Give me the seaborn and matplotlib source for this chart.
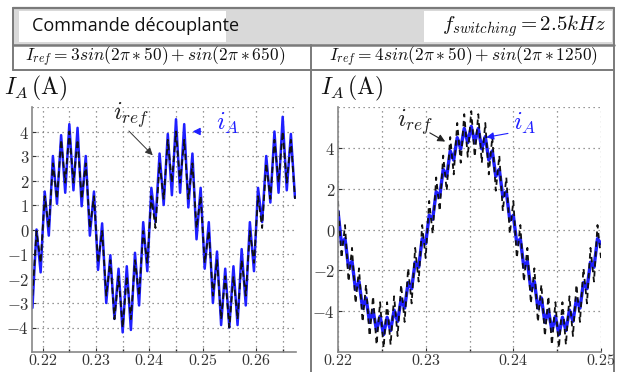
import matplotlib
matplotlib.use("Agg")
import matplotlib.pyplot as plt
import seaborn as sns
from matplotlib.patches import Rectangle
from matplotlib.ticker import FixedLocator

# ---------------- data ----------------
t_left = [0.21808, 0.21885, 0.21962, 0.22038, 0.22115, 0.22192, 0.22269, 0.22346, 0.22423, 0.22500,
          0.22577, 0.22654, 0.22731, 0.22808, 0.22885, 0.22962, 0.23038, 0.23115, 0.23192, 0.23269,
          0.23346, 0.23423, 0.23500, 0.23577, 0.23654, 0.23731, 0.23808, 0.23885, 0.23962, 0.24038,
          0.24115, 0.24192, 0.24269, 0.24346, 0.24423, 0.24500, 0.24577, 0.24654, 0.24731, 0.24808,
          0.24885, 0.24962, 0.25038, 0.25115, 0.25192, 0.25269, 0.25346, 0.25423, 0.25500, 0.25577,
          0.25654, 0.25731, 0.25808, 0.25885, 0.25962, 0.26038, 0.26115, 0.26192, 0.26269, 0.26346,
          0.26423, 0.26500, 0.26577, 0.26654, 0.26731]
iref_left = [-2.70,
             -0.06, -1.36, 1.36, 0.06, 2.70, 1.25, 3.66, 1.91, 4.00, 1.91, 3.66, 1.25, 2.70,
             0.06, 1.36, -1.36, -0.06, -2.70, -1.25, -3.66, -1.91, -4.00, -1.91, -3.66, -1.25, -2.70,
             -0.06, -1.36, 1.36, 0.06, 2.70, 1.25, 3.66, 1.91, 4.00, 1.91, 3.66, 1.25, 2.70,
             0.06, 1.36, -1.36, -0.06, -2.70, -1.25, -3.66, -1.91, -4.00, -1.91, -3.66, -1.25, -2.70,
             -0.06, -1.36, 1.36, 0.06, 2.70, 1.25, 3.66, 1.91, 4.00, 1.91, 3.66, 1.25]
ia_left = [-3.2,
           0.0, -1.75, 1.55, -0.25, 3.0, 1.05, 3.85, 1.5, 4.3, 1.6, 4.15, 0.95, 3.0,
           -0.25, 1.55, -1.65, 0.25, -3.0, -1.05, -3.65, -1.6, -4.2, -1.5, -4.1, -0.95, -3.1,
           0.3, -1.7, 1.7, 0.3, 3.1, 1.0, 3.9, 1.4, 4.5, 1.5, 4.3, 0.9, 3.1,
           -0.4, 1.7, -1.6, 0.3, -3.0, -0.9, -3.9, -1.6, -4.0, -1.5, -3.9, -0.8, -3.1,
           0.3, -1.7, 1.7, 0.3, 3.0, 1.1, 4.0, 1.5, 4.6, 1.6, 3.9, 1.3]

t_right = [0.2200, 0.2204, 0.2208, 0.2212, 0.2216, 0.2220, 0.2224, 0.2228, 0.2232, 0.2236,
           0.2240, 0.2244, 0.2248, 0.2252, 0.2256, 0.2260, 0.2264, 0.2268, 0.2272, 0.2276,
           0.2280, 0.2284, 0.2288, 0.2292, 0.2296, 0.2300, 0.2304, 0.2308, 0.2312, 0.2316,
           0.2320, 0.2324, 0.2328, 0.2332, 0.2336, 0.2340, 0.2344, 0.2348, 0.2352, 0.2356,
           0.2360, 0.2364, 0.2368, 0.2372, 0.2376, 0.2380, 0.2384, 0.2388, 0.2392, 0.2396,
           0.2400, 0.2404, 0.2408, 0.2412, 0.2416, 0.2420, 0.2424, 0.2428, 0.2432, 0.2436,
           0.2440, 0.2444, 0.2448, 0.2452, 0.2456, 0.2460, 0.2464, 0.2468, 0.2472, 0.2476,
           0.2480, 0.2484, 0.2488, 0.2492, 0.2496, 0.2500]
iref_right = [1.40, -1.40, 0.22, -2.55, -0.90, -3.62, -1.90, -4.53, -2.70, -5.22,
              -3.27, -5.65, -3.56, -5.80, -3.56, -5.65, -3.27, -5.22, -2.70, -4.53,
              -1.90, -3.62, -0.90, -2.55, 0.22, -1.40, 1.40, -0.22, 2.55, 0.90,
              3.62, 1.90, 4.53, 2.70, 5.22, 3.27, 5.65, 3.56, 5.80, 3.56,
              5.65, 3.27, 5.22, 2.70, 4.53, 1.90, 3.62, 0.90, 2.55, -0.22,
              1.40, -1.40, 0.22, -2.55, -0.90, -3.62, -1.90, -4.53, -2.70, -5.22,
              -3.27, -5.65, -3.56, -5.80, -3.56, -5.65, -3.27, -5.22, -2.70, -4.53,
              -1.90, -3.62, -0.90, -2.55, 0.22, -1.40]
ia_right = [0.90, -0.70, -0.45, -1.85, -1.55, -2.95, -2.55, -3.85, -3.35, -4.55,
            -3.95, -4.95, -4.25, -5.15, -4.30, -4.95, -3.95, -4.50, -3.40, -3.85,
            -2.60, -2.90, -1.60, -1.85, -0.45, -0.70, 0.70, 0.50, 1.85, 1.60,
            2.95, 2.60, 3.85, 3.40, 4.50, 3.95, 4.95, 4.25, 5.05, 4.25,
            4.95, 3.95, 4.55, 3.40, 3.85, 2.60, 2.95, 1.60, 1.85, 0.45,
            0.70, -0.70, -0.45, -1.85, -1.55, -2.95, -2.55, -3.85, -3.35, -4.55,
            -3.95, -4.95, -4.25, -5.15, -4.30, -4.95, -3.95, -4.50, -3.40, -3.85,
            -2.60, -2.90, -1.60, -1.85, -0.45, -0.70]

left_xticks = [0.22, 0.23, 0.24, 0.25, 0.26]
left_xlabels = ["0.22", "0.23", "0.24", "0.25", "0.26"]
left_yticks = [-4, -3, -2, -1, 0, 1, 2, 3, 4]
right_xticks = [0.22, 0.23, 0.24, 0.25]
right_xlabels = ["0.22", "0.23", "0.24", "0.25"]
right_yticks = [-4, -2, 0, 2, 4]

header_left = "Commande découplante"
header_right = r"$f_{switching} = 2.5kHz$"
title_left = r"$I_{ref} = 3sin(2\pi*50) + sin(2\pi*650)$"
title_right = r"$I_{ref} = 4sin(2\pi*50) + sin(2\pi*1250)$"
ylabel_text = r"$I_A\,(\mathrm{A})$"
lab_ref = r"$i_{ref}$"
lab_ia = r"$i_A$"

# ---------------- style ----------------
sns.set_theme(style="white")
plt.rcParams["font.family"] = ["DejaVu Sans"]
plt.rcParams["mathtext.fontset"] = "cm"

W, H = 622, 372
fig = plt.figure(figsize=(W / 100, H / 100), dpi=100)
fig.patch.set_facecolor("white")

# background "table" layer in pixel coords
bg = fig.add_axes([0, 0, 1, 1], zorder=0)
bg.set_xlim(0, W)
bg.set_ylim(H, 0)
bg.axis("off")
line_c = "#7a7a7a"
bg.add_patch(Rectangle((13, 8), 601, 37, facecolor="#d9d9d9", edgecolor="none"))
bg.add_patch(Rectangle((19, 11), 207, 31, facecolor="white", edgecolor="none"))
bg.add_patch(Rectangle((424, 11), 188, 31, facecolor="white", edgecolor="none"))
bg.plot([13, 614], [8, 8], color=line_c, lw=1.6)
bg.plot([13, 614], [45, 45], color=line_c, lw=1.8)
bg.plot([13, 614], [70, 70], color=line_c, lw=1.4)
bg.plot([13, 13], [8, 70], color=line_c, lw=1.4)
bg.plot([614, 614], [8, 372], color=line_c, lw=1.4)
bg.plot([311, 311], [45, 372], color=line_c, lw=1.4)

bg.text(32, 26, header_left, fontsize=13, family=["Open Sans", "DejaVu Sans"],
        va="center", ha="left", color="#111111")
bg.text(606, 26, header_right, fontsize=15, va="center", ha="right", color="#111111")
bg.text(155, 57, title_left, fontsize=12.5, va="center", ha="center", color="#111111")
bg.text(463, 57, title_right, fontsize=12.5, va="center", ha="center", color="#111111")
bg.text(4, 88, ylabel_text, fontsize=17, va="center", ha="left", color="#111111")
bg.text(320, 88, ylabel_text, fontsize=17, va="center", ha="left", color="#111111")


def px_rect(x0, y0, x1, y1):
    return [x0 / W, (H - y1) / H, (x1 - x0) / W, (y1 - y0) / H]


blue = "#1f1fff"


def style_axes(ax, xlim, ylim, xticks, xlabels, yticks, minor_x):
    ax.set_xlim(*xlim)
    ax.set_ylim(*ylim)
    ax.set_xticks(xticks)
    ax.set_xticklabels(["$" + s + "$" for s in xlabels])
    ax.set_yticks(yticks)
    ax.set_yticklabels(["$" + str(v) + "$" for v in yticks])
    ax.xaxis.set_minor_locator(FixedLocator(minor_x))
    ax.tick_params(axis="both", which="major", direction="in", length=3, width=0.8,
                   labelsize=12, colors="#333333", pad=2, left=True, bottom=True)
    ax.tick_params(axis="x", which="major", pad=0.5, labelsize=11.5)
    ax.tick_params(axis="x", which="minor", direction="in", length=2, bottom=True)
    for s in ["top", "right"]:
        ax.spines[s].set_visible(False)
    for s in ["left", "bottom"]:
        ax.spines[s].set_color("#888888")
        ax.spines[s].set_linewidth(1.2)
    ax.grid(True, which="both", linestyle=(0, (1, 3)), color="#777777", linewidth=0.9)
    ax.set_facecolor("white")
    ax.set_xlabel("")
    ax.set_ylabel("")


# ---------------- left plot ----------------
axL = fig.add_axes(px_rect(32, 107, 296, 352), zorder=2)
sns.lineplot(x=t_left, y=ia_left, ax=axL, color=blue, linewidth=1.8, estimator=None)
sns.lineplot(x=t_left, y=iref_left, ax=axL, color="#111111", linewidth=1.3,
             linestyle=(0, (3.5, 2)), estimator=None)
style_axes(axL, (0.218, 0.2675), (-5, 5), left_xticks, left_xlabels, left_yticks,
           [0.225, 0.235, 0.245, 0.255, 0.265])
axL.axhline(5, color="#777777", linestyle=(0, (1, 3)), lw=0.9)

axL.text(0.2365, 4.65, lab_ref, fontsize=18, ha="center", va="center", color="#222222")
axL.annotate("", xy=(0.2410, 2.95), xytext=(0.2358, 4.10),
             arrowprops=dict(arrowstyle="-|>", color="#333333", lw=0.7, mutation_scale=11))
axL.text(0.2547, 4.33, lab_ia, fontsize=18, ha="center", va="center", color=blue)
axL.annotate("", xy=(0.2476, 4.0), xytext=(0.2502, 4.0),
             arrowprops=dict(arrowstyle="-|>", color=blue, lw=0.9, mutation_scale=11))

# ---------------- right plot ----------------
axR = fig.add_axes(px_rect(338, 107, 601, 352), zorder=2)
sns.lineplot(x=t_right, y=ia_right, ax=axR, color=blue, linewidth=2.4, estimator=None)
sns.lineplot(x=t_right, y=iref_right, ax=axR, color="#111111", linewidth=1.3,
             linestyle=(0, (3, 2.5)), estimator=None)
style_axes(axR, (0.22, 0.25), (-6, 6), right_xticks, right_xlabels, right_yticks,
           [0.225, 0.235, 0.245])
axR.axhline(6, color="#777777", linestyle=(0, (1, 3)), lw=0.9)

axR.text(0.2288, 5.27, lab_ref, fontsize=18, ha="center", va="center", color="#222222")
axR.annotate("", xy=(0.2325, 4.24), xytext=(0.2302, 4.80),
             arrowprops=dict(arrowstyle="-|>", color="#222222", lw=0.8, mutation_scale=11))
axR.text(0.2413, 5.22, lab_ia, fontsize=18, ha="center", va="center", color=blue)
axR.annotate("", xy=(0.2366, 4.49), xytext=(0.2397, 4.73),
             arrowprops=dict(arrowstyle="-|>", color=blue, lw=0.8, mutation_scale=11))

fig.savefig("out.png", dpi=100, facecolor="white")
